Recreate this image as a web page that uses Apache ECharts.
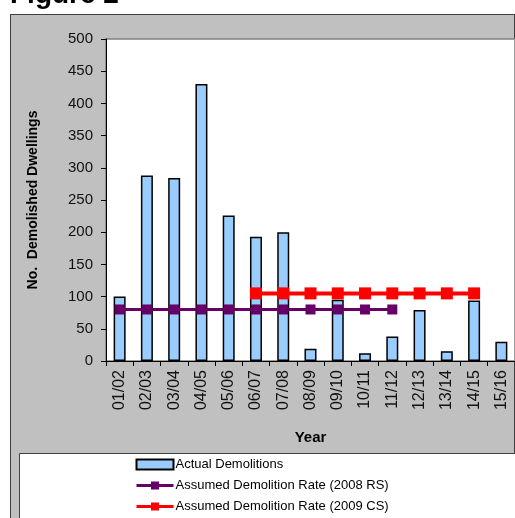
<!DOCTYPE html>
<html>
<head>
<meta charset="utf-8">
<script src="https://cdn.jsdelivr.net/npm/echarts@6/dist/echarts.min.js"></script>
<style>
  html, body { margin: 0; padding: 0; background: #ffffff; }
  #bg { position: absolute; left: 10px; top: 14px; width: 503px; height: 520px;
        background: #c0c0c0; border-left: 1px solid #404040; border-top: 1px solid #404040; border-right: 1px solid #404040; }
  #chart { position: absolute; left: 0; top: 0; width: 515px; height: 518px; }
</style>
</head>
<body>
<div id="bg"></div>
<div id="chart"></div>
<script>
const categories = ['01/02','02/03','03/04','04/05','05/06','06/07','07/08','08/09','09/10','10/11','11/12','12/13','13/14','14/15','15/16'];
const actualDemolitions = [100, 288, 284, 430, 226, 193, 200, 19, 95, 12, 38, 79, 15, 94, 30];
const rate2008RS = [80, 80, 80, 80, 80, 80, 80, 80, 80, 80, 80, '-', '-', '-', '-'];
const rate2009CS = ['-', '-', '-', '-', '-', 105, 105, 105, 105, 105, 105, 105, 105, 105, '-'];
const yTicks = { min: 0, max: 500, interval: 50 };

const FONT = '"Liberation Sans", Arial, sans-serif';
const chart = echarts.init(document.getElementById('chart'), null, { renderer: 'canvas' });

chart.setOption({
  backgroundColor: 'transparent',
  animation: false,
  textStyle: { fontFamily: FONT },
  graphic: [
    { type: 'text', left: 10, top: -19, z: 10,
      style: { text: 'Figure 2', font: 'bold 28px ' + FONT, fill: '#000' } },
    { type: 'rect', shape: { x: 19.5, y: 453.5, width: 520, height: 80 }, z: 0,
      style: { fill: '#ffffff', stroke: '#404040', lineWidth: 1 } }
  ],
  grid: {
    left: 106, top: 39, width: 416, height: 322,
    show: true, backgroundColor: '#ffffff', borderColor: '#808080', borderWidth: 1.5
  },
  legend: {
    orient: 'vertical', left: 135, top: 458, height: 80, padding: 0, z: 10,
    itemWidth: 37, itemHeight: 10, itemGap: 8,
    lineStyle: { width: 3 },
    textStyle: { fontSize: 13, color: '#000', fontFamily: FONT, padding: [0, 0, 0, -3] },
    data: [
      { name: 'Actual Demolitions', icon: 'rect' },
      { name: 'Assumed Demolition Rate (2008 RS)' },
      { name: 'Assumed Demolition Rate (2009 CS)' }
    ]
  },
  xAxis: {
    type: 'category', data: categories,
    name: 'Year', nameLocation: 'middle', nameGap: 69,
    nameTextStyle: { fontSize: 15, fontWeight: 'bold', color: '#000', fontFamily: FONT },
    axisLine: { lineStyle: { color: '#000', width: 1 } },
    axisTick: { show: true, length: 5, lineStyle: { color: '#000' } },
    axisLabel: { rotate: 90, fontSize: 16, color: '#111', margin: 9, fontFamily: FONT },
    splitLine: { show: false }
  },
  yAxis: {
    type: 'value', min: yTicks.min, max: yTicks.max, interval: yTicks.interval,
    name: 'No.  Demolished Dwellings', nameLocation: 'middle', nameGap: 66,
    nameTextStyle: { fontSize: 14, fontWeight: 'bold', color: '#000', fontFamily: FONT },
    axisLine: { show: true, lineStyle: { color: '#000', width: 1 } },
    axisTick: { show: true, length: 5, lineStyle: { color: '#000' } },
    axisLabel: { fontSize: 15, color: '#111', margin: 13, fontFamily: FONT },
    splitLine: { show: false }
  },
  series: [
    {
      name: 'Actual Demolitions', type: 'bar', data: actualDemolitions,
      barWidth: 12, z: 2,
      itemStyle: { color: '#99ccff', borderColor: '#000', borderWidth: 1.5 }
    },
    {
      name: 'Assumed Demolition Rate (2008 RS)', type: 'line', data: rate2008RS,
      symbol: 'rect', symbolSize: 10, z: 3,
      lineStyle: { color: '#660066', width: 3 },
      itemStyle: { color: '#660066' }
    },
    {
      name: 'Assumed Demolition Rate (2009 CS)', type: 'line', data: rate2009CS,
      symbol: 'rect', symbolSize: 12, z: 4,
      lineStyle: { color: '#ff0000', width: 4 },
      itemStyle: { color: '#ff0000' }
    }
  ]
});
</script>
</body>
</html>
